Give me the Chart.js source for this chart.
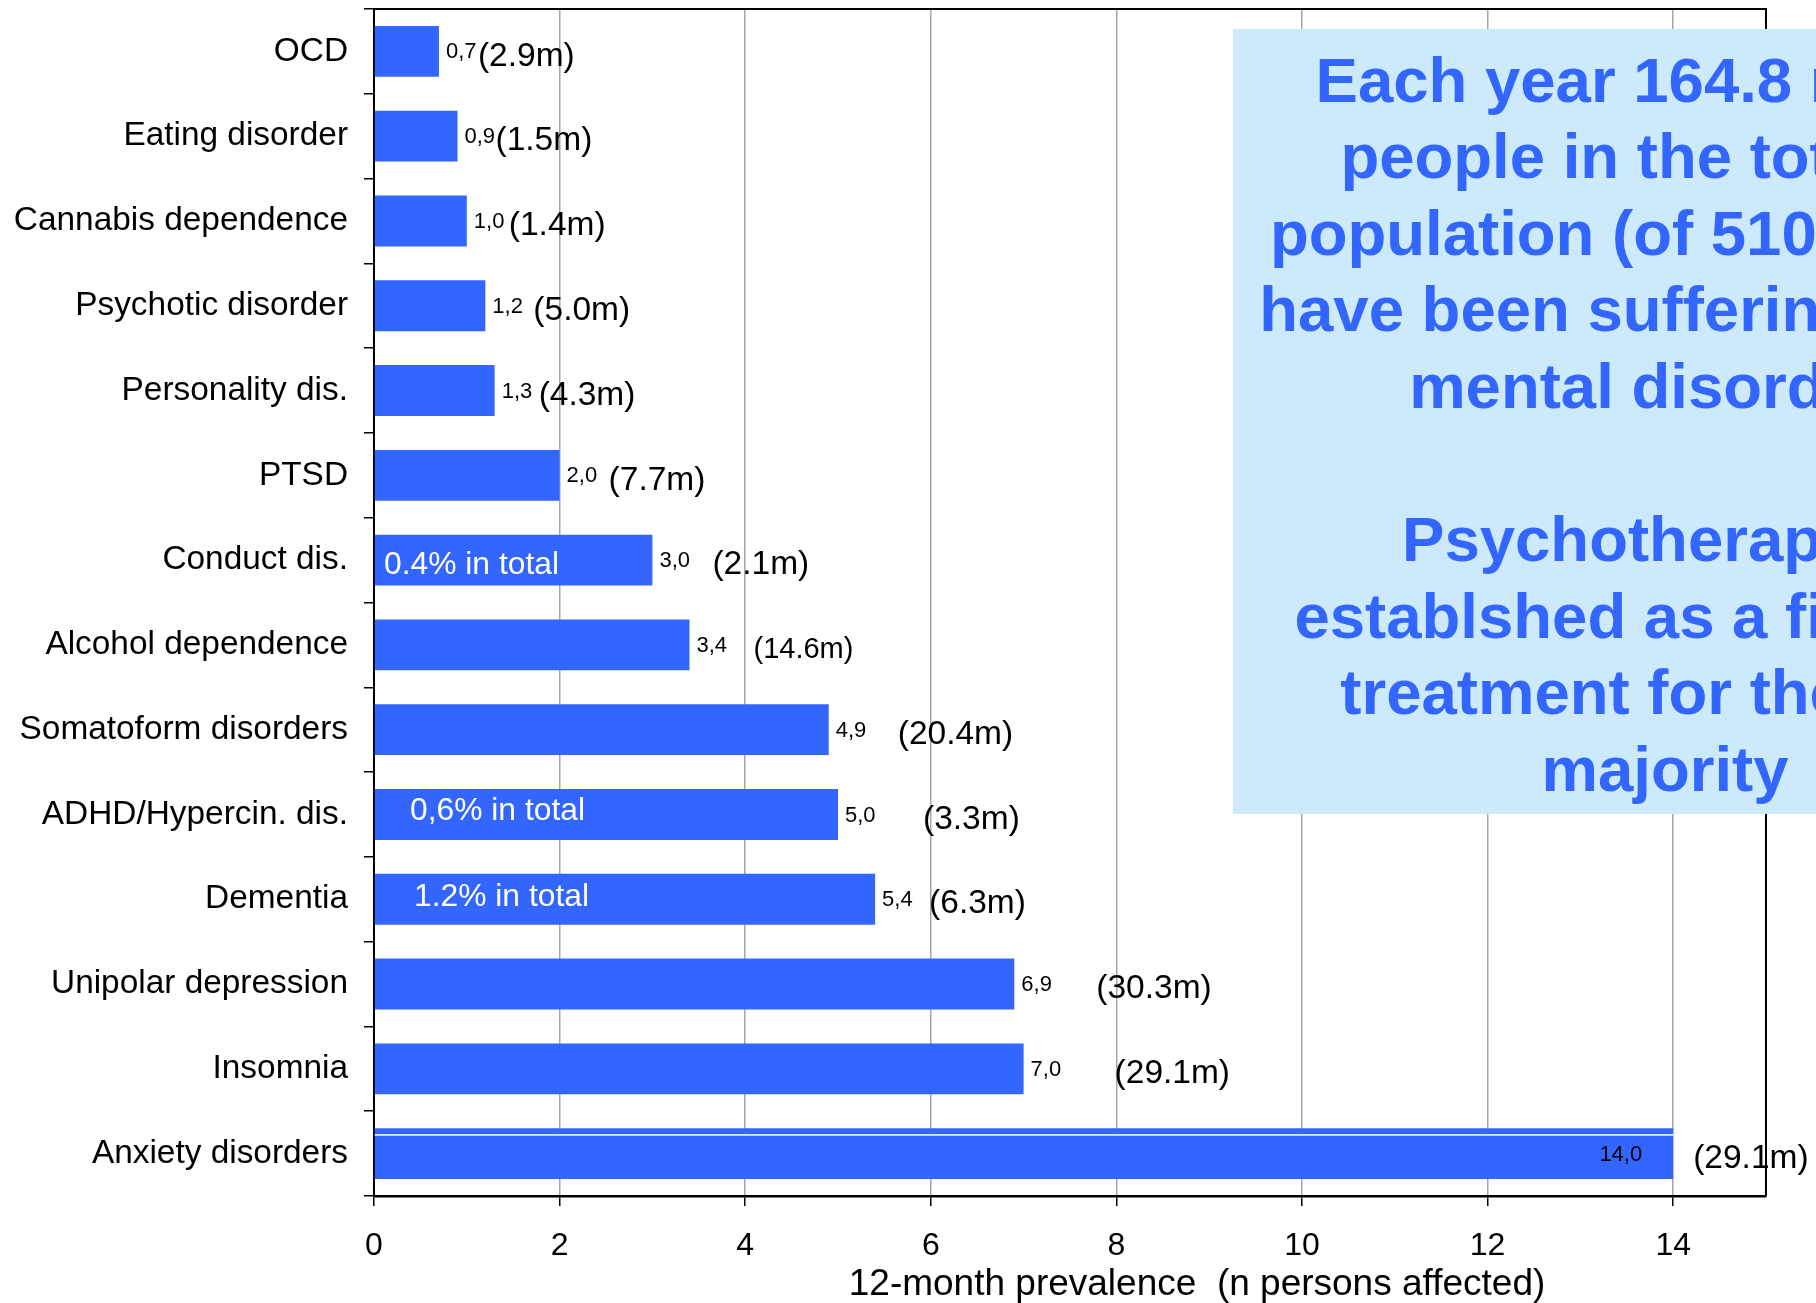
<!DOCTYPE html>
<html>
<head>
<meta charset="utf-8">
<script src="https://cdn.jsdelivr.net/npm/chart.js@4/dist/chart.umd.min.js"></script>
<style>
  html, body { margin: 0; padding: 0; background: #fff; }
</style>
</head>
<body>
<canvas id="myChart" width="1816" height="1303"></canvas>
<script>
var categories = ['OCD', 'Eating disorder', 'Cannabis dependence', 'Psychotic disorder',
                  'Personality dis.', 'PTSD', 'Conduct dis.', 'Alcohol dependence',
                  'Somatoform disorders', 'ADHD/Hypercin. dis.', 'Dementia',
                  'Unipolar depression', 'Insomnia', 'Anxiety disorders'];
var prevalence = [0.7, 0.9, 1.0, 1.2, 1.3, 2.0, 3.0, 3.4, 4.9, 5.0, 5.4, 6.9, 7.0, 14.0];
var millions = ['2.9', '1.5', '1.4', '5.0', '4.3', '7.7', '2.1', '14.6', '20.4', '3.3', '6.3', '30.3', '29.1', '29.1'];
var xTicks = [0, 2, 4, 6, 8, 10, 12, 14];
var inBarNotes = {
  'Conduct dis.': '0.4% in total',
  'ADHD/Hypercin. dis.': '0,6% in total',
  'Dementia': '1.2% in total'
};
var boxLines = ['Each year 164.8 million', 'people in the total EU', 'population (of 510 million)',
                'have been suffering from a', 'mental disorders', '',
                'Psychotherapy is', 'establshed as a first-line', 'treatment for the vast', 'majority'];
var axisTitle = '12-month prevalence  (n persons affected)';

// layout bits (pixels)
var FONT = '"Liberation Sans", Arial, sans-serif';
var BLUE = '#3366ff';
var millionGap = [39, 38, 42, 48, 44, 49, 60, 64, 69, 85, 54, 82, 91, 20];
var noteOffset = {
  'Conduct dis.': [10, 5],
  'ADHD/Hypercin. dis.': [36, -3],
  'Dementia': [40, -2]
};

var annotate = {
  id: 'annotate',
  afterDatasetsDraw: function(chart) {
    var ctx = chart.ctx, area = chart.chartArea;
    var bars = chart.getDatasetMeta(0).data;
    var biggest = Math.max.apply(null, prevalence);
    ctx.save();
    // frame top + right
    ctx.strokeStyle = '#000';
    ctx.lineWidth = 2;
    ctx.beginPath();
    ctx.moveTo(area.left, area.top);
    ctx.lineTo(area.right, area.top);
    ctx.lineTo(area.right, area.bottom);
    ctx.stroke();

    ctx.textBaseline = 'middle';
    bars.forEach(function(bar, i) {
      var label = prevalence[i].toFixed(1).replace('.', ',');
      ctx.font = '22px ' + FONT;
      if (prevalence[i] === biggest) {
        // thin white seam near the top of the long bar
        ctx.fillStyle = '#fff';
        ctx.fillRect(bar.base, bar.y - bar.height / 2 + 6, bar.x - bar.base, 1.5);
        ctx.fillStyle = '#000';
        ctx.textAlign = 'right';
        ctx.fillText(label, bar.x - 31, bar.y + 1);
      } else {
        ctx.fillStyle = '#000';
        ctx.textAlign = 'left';
        ctx.fillText(label, bar.x + 7, bar.y + 1);
      }
      ctx.textAlign = 'left';
      ctx.font = (categories[i] === 'Alcohol dependence' ? 29 : 33.5) + 'px ' + FONT;
      ctx.fillText('(' + millions[i] + 'm)', bar.x + millionGap[i], bar.y + 5);

      var note = inBarNotes[categories[i]];
      if (note) {
        var off = noteOffset[categories[i]];
        ctx.fillStyle = '#fff';
        ctx.font = '31.8px ' + FONT;
        ctx.fillText(note, area.left + off[0], bar.y + off[1]);
      }
    });
    ctx.restore();
  },
  afterDraw: function(chart) {
    var ctx = chart.ctx;
    ctx.save();
    // axis title
    ctx.fillStyle = '#000';
    ctx.font = '37px ' + FONT;
    ctx.textAlign = 'center';
    ctx.textBaseline = 'middle';
    ctx.fillText(axisTitle, 1197, 1285);

    // callout box
    ctx.fillStyle = '#cceafc';
    ctx.fillRect(1233, 29, chart.width - 1233, 785);
    ctx.fillStyle = BLUE;
    ctx.font = 'bold 63.5px ' + FONT;
    boxLines.forEach(function(line, i) {
      if (line) ctx.fillText(line, 1665, 84 + i * 76.6);
    });
    ctx.restore();
  }
};

var ctx = document.getElementById('myChart').getContext('2d');
var myChart = new Chart(ctx, {
  type: 'bar',
  data: {
    labels: categories,
    datasets: [{
      label: '12-month prevalence',
      data: prevalence,
      backgroundColor: BLUE,
      borderWidth: 0,
      barPercentage: 0.6,
      categoryPercentage: 1.0
    }]
  },
  options: {
    indexAxis: 'y',
    responsive: false,
    animation: false,
    devicePixelRatio: 1,
    layout: { padding: { top: 9, right: 50, left: 0, bottom: 0 } },
    plugins: {
      legend: { display: false },
      tooltip: { enabled: false }
    },
    scales: {
      x: {
        type: 'linear',
        min: 0,
        max: 15,
        afterBuildTicks: function(scale) {
          scale.ticks = xTicks.map(function(v) { return { value: v }; });
        },
        afterFit: function(scale) {
          scale.height = 107;
          scale.paddingLeft = 0;
          scale.paddingRight = 0;
        },
        grid: {
          color: '#a6a6a6',
          lineWidth: 1.5,
          tickColor: '#000',
          tickLength: 10
        },
        border: { display: true, color: '#000', width: 2.5 },
        ticks: {
          color: '#000',
          padding: 21,
          maxRotation: 0,
          font: { family: FONT, size: 32 }
        }
      },
      y: {
        afterFit: function(scale) {
          scale.width = 374;
          scale.paddingTop = 0;
          scale.paddingBottom = 0;
        },
        grid: {
          display: true,
          drawOnChartArea: false,
          drawTicks: true,
          tickLength: 10,
          color: '#000',
          lineWidth: 1.5,
          offset: true
        },
        border: { display: true, color: '#000', width: 2 },
        ticks: {
          color: '#000',
          padding: 16,
          font: { family: FONT, size: 33.4 }
        }
      }
    }
  },
  plugins: [annotate]
});
</script>
</body>
</html>
